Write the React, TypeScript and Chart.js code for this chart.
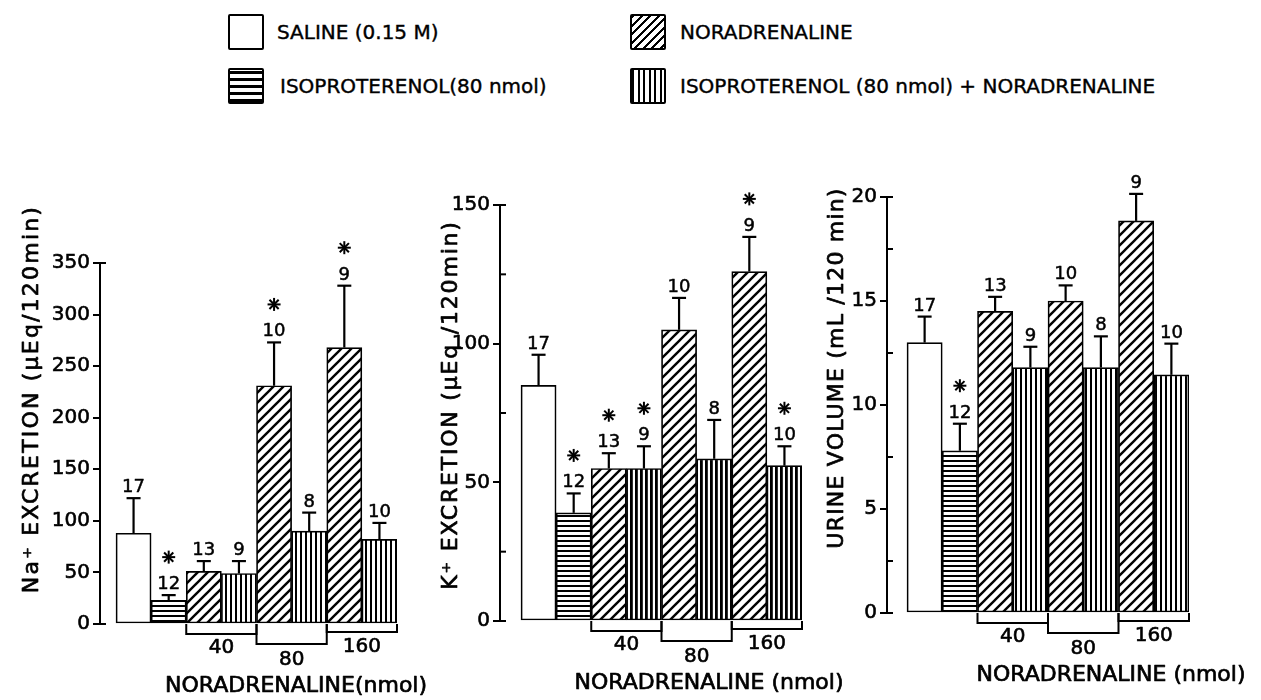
import React, { useEffect, useRef } from 'react';
import { Chart, registerables } from 'chart.js';
Chart.register(...registerables);

// ---------- data ----------
const treatmentLabels = [
  'SALINE (0.15 M)',
  'ISOPROTERENOL(80 nmol)',
  'NORADRENALINE',
  'ISOPROTERENOL (80 nmol) + NORADRENALINE',
];
// treatment of each of the 8 bars (saline, iso, NA40, iso+NA40, NA80, iso+NA80, NA160, iso+NA160)
const barTreatment = [0, 1, 2, 3, 2, 3, 2, 3];
const nCounts = [17, 12, 13, 9, 10, 8, 9, 10];
const doseLabels = ['40', '80', '160'];

const naMean = [88, 23, 51, 49, 231, 90, 268, 82];
const naSem = [34, 5, 10, 12, 42, 18, 60, 16];
const naStar = [false, true, false, false, true, false, true, false];

const kMean = [85, 39, 55, 55, 105, 58.5, 126, 56];
const kSem = [11, 7, 5.5, 8, 11.5, 14, 12.5, 7];
const kStar = [false, true, true, true, false, false, true, true];

const urineMean = [13.0, 7.8, 14.5, 11.8, 15.0, 11.8, 18.85, 11.45];
const urineSem = [1.25, 1.3, 0.7, 1.0, 0.75, 1.5, 1.3, 1.5];
const urineStar = [false, true, false, false, false, false, false, false];

// ---------- layout configs ----------
type Panel = {
  key: string;
  mean: number[];
  sem: number[];
  star: boolean[];
  yMax: number;
  step: number;
  labelEvery: number;
  canvasLeft: number;
  canvasWidth: number;
  axisX: number;
  barsLeft: number;
  barsRight: number;
  yTop: number;
  yBase: number;
  yTitle: string;
  yTitleX: number;
  yTitleY: number;
  yTitleSpacing: number;
  xTitle: string;
  xTitleX: number;
  denseVertical: boolean;
};

const panels: Panel[] = [
  {
    key: 'na', mean: naMean, sem: naSem, star: naStar,
    yMax: 350, step: 50, labelEvery: 50,
    canvasLeft: 0, canvasWidth: 430, axisX: 100, barsLeft: 116, barsRight: 397, yTop: 263, yBase: 624,
    yTitle: 'Na\u207A EXCRETION (\u00B5Eq/120min)', yTitleX: 38, yTitleY: 399, yTitleSpacing: 2.2,
    xTitle: 'NORADRENALINE(nmol)', xTitleX: 296, denseVertical: false,
  },
  {
    key: 'k', mean: kMean, sem: kSem, star: kStar,
    yMax: 150, step: 25, labelEvery: 50,
    canvasLeft: 420, canvasWidth: 430, axisX: 500, barsLeft: 521, barsRight: 802, yTop: 205, yBase: 621,
    yTitle: 'K\u207A EXCRETION (\u00B5Eq /120min)', yTitleX: 457, yTitleY: 405, yTitleSpacing: 1.8,
    xTitle: 'NORADRENALINE (nmol)', xTitleX: 709, denseVertical: true,
  },
  {
    key: 'urine', mean: urineMean, sem: urineSem, star: urineStar,
    yMax: 20, step: 2.5, labelEvery: 5,
    canvasLeft: 815, canvasWidth: 446, axisX: 887, barsLeft: 907, barsRight: 1189, yTop: 197, yBase: 613,
    yTitle: 'URINE VOLUME (mL /120 min)', yTitleX: 843, yTitleY: 368, yTitleSpacing: 1.2,
    xTitle: 'NORADRENALINE (nmol)', xTitleX: 1111, denseVertical: false,
  },
];

const FONT = '"DejaVu Sans", "Liberation Sans", sans-serif';

function makePattern(kind: number, dense: boolean): CanvasPattern | string {
  if (kind === 0) return '#ffffff';
  const c = document.createElement('canvas');
  const g = c.getContext('2d') as CanvasRenderingContext2D;
  if (kind === 1) {
    c.width = 8; c.height = 5;
    g.fillStyle = '#fff'; g.fillRect(0, 0, 8, 5);
    g.fillStyle = '#000'; g.fillRect(0, 0, 8, 2);
  } else if (kind === 2) {
    c.width = 10; c.height = 10;
    g.fillStyle = '#fff'; g.fillRect(0, 0, 10, 10);
    g.strokeStyle = '#000'; g.lineWidth = 2.4;
    for (const s of [0, 10, 20]) {
      g.beginPath(); g.moveTo(-3, s + 3); g.lineTo(s + 3, -3); g.stroke();
    }
  } else {
    c.width = 5; c.height = 8;
    g.fillStyle = '#fff'; g.fillRect(0, 0, 5, 8);
    g.fillStyle = '#000'; g.fillRect(0, 0, dense ? 2.8 : 2, 8);
  }
  const pat = g.createPattern(c, 'repeat');
  return pat || '#fff';
}

function boldText(ctx: CanvasRenderingContext2D, s: string, x: number, y: number, w: number) {
  ctx.fillText(s, x, y);
  ctx.save();
  ctx.lineWidth = w;
  ctx.lineJoin = 'round';
  ctx.strokeText(s, x, y);
  ctx.restore();
}

function annotator(p: Panel) {
  return {
    id: 'annot_' + p.key,
    afterDraw(chart: any) {
      const ctx: CanvasRenderingContext2D = chart.ctx;
      const xs = chart.scales.x;
      const ys = chart.scales.y;
      const ca = chart.chartArea;
      const seg = (x1: number, y1: number, x2: number, y2: number) => {
        ctx.beginPath(); ctx.moveTo(x1, y1); ctx.lineTo(x2, y2); ctx.stroke();
      };
      ctx.save();
      ctx.strokeStyle = '#000';
      ctx.fillStyle = '#000';
      ctx.lineWidth = 2;
      // inward (minor + end) ticks
      for (const t of ys.ticks) {
        const v = t.value;
        if (Math.abs(v % p.labelEvery) > 1e-6 || v === 0 || v === p.yMax) {
          const py = ys.getPixelForValue(v);
          seg(ca.left - 1, py, ca.left + 6, py);
        }
      }
      // error bars, n, significance stars
      chart.data.datasets.forEach((ds: any, di: number) => {
        const meta = chart.getDatasetMeta(di);
        meta.data.forEach((bar: any, j: number) => {
          const i = ds.data[j].x - 1;
          const top = ys.getPixelForValue(p.mean[i] + p.sem[i]);
          ctx.lineWidth = 2.2;
          seg(bar.x, bar.y, bar.x, top);
          seg(bar.x - 7, top, bar.x + 7, top);
          ctx.font = '18px ' + FONT;
          ctx.textAlign = 'center';
          ctx.textBaseline = 'alphabetic';
          boldText(ctx, String(nCounts[i]), bar.x, top - 6, 0.5);
          if (p.star[i]) {
            ctx.lineWidth = 2;
            const cy = top - 38;
            for (let a = 0; a < 4; a++) {
              const ang = (a * Math.PI) / 4;
              const dx = Math.cos(ang) * 6.5;
              const dy = Math.sin(ang) * 6.5;
              seg(bar.x - dx, cy - dy, bar.x + dx, cy + dy);
            }
          }
        });
      });
      // dose brackets
      const base = ys.getPixelForValue(0);
      const drops = [10, 20, 8];
      const labelOffsets = [24, 36, 23];
      doseLabels.forEach((lab, g) => {
        const x0 = xs.getPixelForValue(2.5 + 2 * g);
        const x1 = xs.getPixelForValue(4.5 + 2 * g);
        const yb = base + drops[g];
        ctx.lineWidth = 2;
        ctx.beginPath();
        ctx.moveTo(x0, base); ctx.lineTo(x0, yb); ctx.lineTo(x1, yb); ctx.lineTo(x1, base);
        ctx.stroke();
        ctx.font = '20px ' + FONT;
        ctx.textAlign = 'center';
        ctx.textBaseline = 'middle';
        boldText(ctx, lab, (x0 + x1) / 2, base + labelOffsets[g], 0.6);
      });
      // x title
      ctx.font = '22px ' + FONT;
      ctx.textAlign = 'center';
      ctx.textBaseline = 'middle';
      boldText(ctx, p.xTitle, p.xTitleX - p.canvasLeft, base + 62, 0.7);
      // y title
      ctx.translate(p.yTitleX - p.canvasLeft, p.yTitleY);
      ctx.rotate(-Math.PI / 2);
      (ctx as any).letterSpacing = p.yTitleSpacing + 'px';
      ctx.font = '22px ' + FONT;
      ctx.textAlign = 'center';
      ctx.textBaseline = 'alphabetic';
      boldText(ctx, p.yTitle, 0, 0, 0.7);
      ctx.restore();
    },
  };
}

function PanelChart({ p }: { p: Panel }) {
  const ref = useRef<HTMLCanvasElement | null>(null);
  useEffect(() => {
    if (!ref.current) return;
    const k = (p.barsRight - p.barsLeft) / 8;
    const xMin = 0.5 - (p.barsLeft - p.axisX) / k;
    const datasets = [0, 1, 2, 3].map((t) => {
      const idxs = barTreatment.map((bt, i) => (bt === t ? i : -1)).filter((i) => i >= 0);
      return {
        label: treatmentLabels[t],
        data: idxs.map((i) => ({ x: i + 1, y: p.mean[i] })),
        backgroundColor: makePattern(t, p.denseVertical) as any,
        borderColor: '#000',
        borderWidth: 1.7,
        borderSkipped: false as any,
        grouped: false,
        barThickness: k,
      };
    });
    const chart = new Chart(ref.current, {
      type: 'bar',
      data: { datasets: datasets as any },
      options: {
        responsive: false,
        animation: false,
        devicePixelRatio: 1,
        layout: {
          padding: {
            left: 0,
            top: p.yTop,
            right: p.canvasLeft + p.canvasWidth - p.barsRight,
            bottom: 700 - p.yBase,
          },
        },
        plugins: {
          legend: { display: false },
          tooltip: { enabled: false },
          title: { display: false },
        },
        scales: {
          x: {
            type: 'linear',
            min: xMin,
            max: 8.5,
            offset: false,
            display: false,
            grid: { offset: false },
          },
          y: {
            min: 0,
            max: p.yMax,
            afterFit: (s: any) => { s.width = p.axisX - p.canvasLeft; },
            border: { display: true, color: '#000', width: 2 },
            grid: {
              display: true,
              drawOnChartArea: false,
              drawTicks: true,
              tickLength: 7,
              lineWidth: 2,
              color: (c: any) =>
                c.tick && Math.abs(c.tick.value % p.labelEvery) < 1e-6 ? '#000' : 'rgba(0,0,0,0)',
            },
            ticks: {
              stepSize: p.step,
              autoSkip: false,
              color: '#000',
              padding: 3,
              textStrokeColor: '#000',
              textStrokeWidth: 0.6,
              font: { family: FONT, size: 20 },
              callback: (v: any) => (Math.abs(Number(v) % p.labelEvery) < 1e-6 ? String(v) : ''),
            } as any,
          },
        },
      },
      plugins: [annotator(p)],
    });
    return () => chart.destroy();
  }, [p]);
  return (
    <canvas
      ref={ref}
      width={p.canvasWidth}
      height={700}
      style={{ position: 'absolute', left: p.canvasLeft, top: 0, width: p.canvasWidth, height: 700 }}
    />
  );
}

const swatchBg = [
  '#fff',
  'repeating-linear-gradient(0deg, #000 0px, #000 2.5px, #fff 2.5px, #fff 7px)',
  'repeating-linear-gradient(135deg, #000 0px, #000 2px, #fff 2px, #fff 6px)',
  'repeating-linear-gradient(90deg, #000 0px, #000 2px, #fff 2px, #fff 5.5px)',
];
const legendPos = [
  { box: [228, 14], text: [277, 32] },
  { box: [228, 68], text: [280, 86] },
  { box: [630, 14], text: [680, 32] },
  { box: [630, 68], text: [680, 86] },
];

export default function App() {
  return (
    <div style={{ position: 'relative', width: 1261, height: 700, background: '#fff', overflow: 'hidden' }}>
      <style>{'body{margin:0;background:#fff}'}</style>
      {treatmentLabels.map((lab, t) => (
        <React.Fragment key={lab}>
          <div
            style={{
              position: 'absolute',
              left: legendPos[t].box[0],
              top: legendPos[t].box[1],
              width: 36,
              height: 36,
              boxSizing: 'border-box',
              border: '2.5px solid #000',
              borderRadius: 2,
              background: swatchBg[t],
            }}
          />
          <div
            style={{
              position: 'absolute',
              left: legendPos[t].text[0],
              top: legendPos[t].text[1] - 12,
              height: 24,
              lineHeight: '24px',
              fontFamily: FONT,
              fontSize: 20,
              color: '#000',
              whiteSpace: 'nowrap',
              WebkitTextStroke: '0.4px #000',
            }}
          >
            {lab}
          </div>
        </React.Fragment>
      ))}
      {panels.map((p) => (
        <PanelChart key={p.key} p={p} />
      ))}
    </div>
  );
}
